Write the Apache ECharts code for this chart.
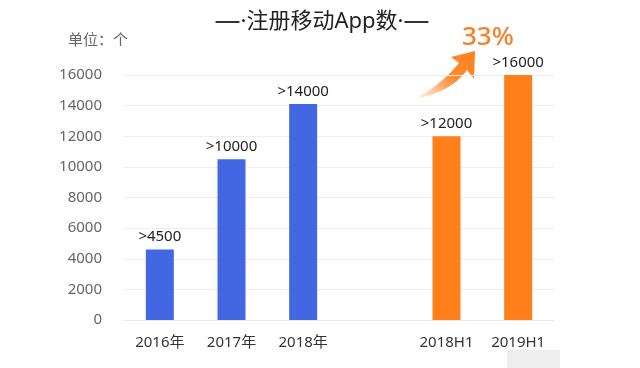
<!DOCTYPE html>
<html>
<head>
<meta charset="utf-8">
<script src="https://cdn.jsdelivr.net/npm/echarts@6/dist/echarts.min.js"></script>
<style>
  html, body { margin: 0; padding: 0; background: #fff; }
  #main { width: 640px; height: 368px; }
</style>
</head>
<body>
<div id="main"></div>
<script>
// 类目（中间留空一格作为分隔）
var categories = ['2016年', '2017年', '2018年', '', '2018H1', '2019H1'];
var values = [4600, 10500, 14100, null, 12000, 16000];
var labels = ['>4500', '>10000', '>14000', '', '>12000', '>16000'];
var yTicks = [0, 2000, 4000, 6000, 8000, 10000, 12000, 14000, 16000];

var blue = '#4367e3';
var orange = '#ff7f1b';
var font = '"Noto Sans", "Noto Sans CJK SC", sans-serif';

var barData = values.map(function (v, i) {
    return {
        value: v,
        itemStyle: { color: i < 3 ? blue : orange }
    };
});

// 弯曲箭头的轮廓点（二次贝塞尔取样）
function quad(p0, c, p1, n) {
    var pts = [];
    for (var i = 0; i <= n; i++) {
        var t = i / n;
        pts.push([
            (1 - t) * (1 - t) * p0[0] + 2 * (1 - t) * t * c[0] + t * t * p1[0],
            (1 - t) * (1 - t) * p0[1] + 2 * (1 - t) * t * c[1] + t * t * p1[1]
        ]);
    }
    return pts;
}
var arrowPts = quad([414, 99], [450, 93], [467, 70], 12)
    .concat([[474, 79], [475, 51], [451, 57]])
    .concat(quad([459, 63], [440, 86], [414, 99], 12));

var option = {
    backgroundColor: '#fff',
    animation: false,
    textStyle: { fontFamily: font },
    title: {
        text: '{d|—}·注册移动App数·{d|—}',
        left: 317,
        textAlign: 'center',
        top: 4,
        textStyle: {
            fontFamily: font,
            fontSize: 22,
            fontWeight: 'normal',
            color: '#222',
            rich: {
                d: { fontSize: 26, fontFamily: font, color: '#333' }
            }
        }
    },
    grid: {
        left: 124,
        right: 86,
        top: 75,
        bottom: 48
    },
    xAxis: {
        type: 'category',
        data: categories,
        axisLine: { lineStyle: { color: '#e8e8e8' } },
        axisTick: { show: false },
        axisLabel: {
            color: '#333',
            fontSize: 15,
            margin: 15,
            interval: 0
        }
    },
    yAxis: {
        type: 'value',
        min: yTicks[0],
        max: yTicks[yTicks.length - 1],
        interval: 2000,
        axisLine: { show: false },
        axisTick: { show: false },
        axisLabel: {
            color: '#666',
            fontSize: 15,
            margin: 22,
            formatter: function (v) { return String(v); }
        },
        splitLine: { lineStyle: { color: '#eeeeee' } }
    },
    series: [{
        type: 'bar',
        barWidth: 28,
        data: barData,
        label: {
            show: true,
            position: 'top',
            distance: 5,
            color: '#222',
            fontSize: 15,
            formatter: function (p) {
                return labels[p.dataIndex];
            }
        }
    }],
    graphic: [
        {
            type: 'text',
            left: 68,
            top: 33,
            style: {
                text: '单位：个',
                fill: '#666',
                fontSize: 15,
                fontFamily: font
            }
        },
        {
            type: 'polygon',
            shape: { points: arrowPts },
            style: {
                fill: new echarts.graphic.LinearGradient(0, 1, 1, 0, [
                    { offset: 0, color: 'rgba(255,127,27,0)' },
                    { offset: 0.55, color: 'rgba(255,127,27,0.9)' },
                    { offset: 1, color: orange }
                ])
            }
        },
        {
            type: 'text',
            left: 462,
            top: 25,
            style: {
                text: '33%',
                fill: '#f5822a',
                fontSize: 26,
                fontWeight: 500,
                fontFamily: font
            }
        },
        {
            type: 'rect',
            shape: { x: 507, y: 350, width: 53, height: 18 },
            style: { fill: '#eeeeee' }
        }
    ]
};

var myChart = echarts.init(document.getElementById('main'));
myChart.setOption(option);
</script>
</body>
</html>
